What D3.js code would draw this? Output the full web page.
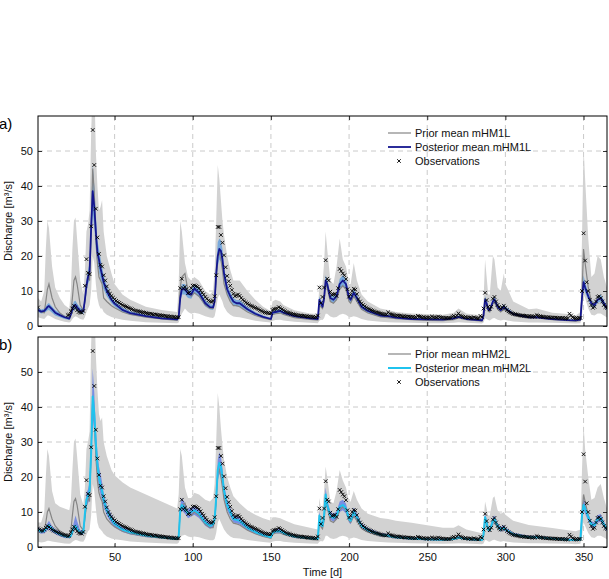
<!DOCTYPE html>
<html>
<head>
<meta charset="utf-8">
<script src="https://cdn.jsdelivr.net/npm/d3@7"></script>
<style>
  body { margin: 0; background: #fff; }
  svg { font-family: "Liberation Sans", Arial, sans-serif; }
</style>
</head>
<body>
<svg id="chart" width="609" height="579"></svg>
<script>
// Observed daily discharge, day 1..365 (shared by both panels)
var obs = [
  5.3, 5.0, 4.7, 4.6, 5.0, 5.5, 6.0, 5.7, 5.3, 5.0,
  4.7, 4.5, 4.3, 4.1, 3.9, 3.7, 3.5, 3.4, 3.3, 3.1,
  3.2, 4.2, 5.0, 5.8, 5.2, 4.5, 4.0, 3.9, 3.8, 4.3,
  11.5, 19.1, 15.2, 14.8, 28.5, 56.0, 46.0, 33.5, 25.3, 20.6,
  17.5, 17.0, 14.5, 13.0, 11.3, 10.0, 9.2, 8.6, 8.1, 7.6,
  7.2, 6.9, 6.6, 6.3, 6.0, 5.8, 5.6, 5.4, 5.2, 5.0,
  4.8, 4.6, 4.4, 4.3, 4.2, 4.1, 4.0, 3.9, 3.8, 3.7,
  3.6, 3.5, 3.5, 3.4, 3.3, 3.3, 3.2, 3.1, 3.1, 3.0,
  2.9, 2.9, 2.8, 2.8, 2.7, 2.7, 2.6, 2.6, 2.5, 2.5,
  2.5, 10.8, 13.5, 10.8, 11.2, 10.5, 9.4, 9.6, 10.8, 11.5,
  11.6, 11.4, 11.2, 10.8, 10.2, 9.5, 9.0, 8.3, 7.8, 7.3,
  7.0, 6.9, 7.2, 8.5, 14.5, 28.3, 28.3, 26.0, 23.8, 20.2,
  16.8, 14.3, 12.8, 11.5, 10.3, 9.2, 8.5, 8.8, 9.0, 8.6,
  8.0, 7.5, 7.1, 6.7, 6.4, 6.1, 5.8, 5.6, 5.4, 5.2,
  5.0, 4.8, 4.5, 4.3, 4.1, 3.9, 3.8, 3.7, 3.6, 3.7,
  4.6, 4.8, 4.9, 5.0, 5.4, 5.1, 4.8, 4.5, 4.2, 4.0,
  3.8, 3.7, 3.5, 3.4, 3.3, 3.2, 3.1, 3.0, 3.0, 2.9,
  2.9, 2.8, 2.8, 2.7, 2.7, 2.6, 2.6, 2.5, 2.5, 3.0,
  11.0, 6.6, 8.3, 11.0, 18.8, 13.5, 13.0, 9.8, 8.9, 9.0,
  9.2, 8.6, 10.8, 16.3, 15.7, 15.0, 14.5, 13.4, 10.5, 8.4,
  9.0, 10.0, 10.6, 10.4, 9.1, 7.7, 7.0, 6.4, 6.0, 5.6,
  5.3, 5.0, 4.8, 4.6, 4.4, 4.2, 4.0, 3.9, 3.8, 3.6,
  3.5, 3.4, 3.3, 3.3, 3.9, 3.5, 3.3, 3.2, 3.1, 3.0,
  3.0, 2.9, 2.9, 2.8, 2.8, 2.7, 2.7, 2.7, 2.6, 2.6,
  2.6, 2.5, 2.5, 2.9, 2.7, 2.6, 2.5, 2.5, 2.4, 2.4,
  2.4, 2.4, 2.7, 2.5, 2.4, 2.4, 2.7, 2.5, 2.4, 2.4,
  2.3, 2.3, 2.3, 2.3, 2.3, 2.7, 2.9, 2.6, 3.0, 3.6,
  3.0, 2.8, 2.6, 2.5, 2.5, 2.4, 2.4, 2.3, 2.3, 2.5,
  2.3, 2.2, 2.2, 2.9, 2.6, 5.0, 9.5, 7.4, 5.5, 4.8,
  5.5, 7.8, 8.3, 7.0, 6.0, 5.4, 5.0, 5.3, 5.8, 5.2,
  4.6, 4.2, 3.9, 3.7, 3.5, 3.4, 3.3, 3.2, 3.1, 3.0,
  3.0, 2.9, 2.9, 2.8, 2.8, 2.8, 2.7, 2.7, 2.7, 3.1,
  2.9, 2.8, 2.7, 2.6, 2.6, 2.5, 2.5, 2.5, 2.4, 2.4,
  2.4, 2.4, 2.3, 2.3, 2.3, 2.3, 2.3, 2.2, 2.2, 2.2,
  3.5, 3.0, 2.5, 2.3, 2.2, 2.2, 2.3, 2.3, 10.0, 26.5,
  18.7, 12.5, 10.0, 7.5, 6.0, 5.2, 5.5, 7.0, 8.3, 8.5,
  8.0, 7.0, 6.0, 5.4, 5.2
]
// days with no observation marker in panel a
var missingA = [2, 3, 4, 5, 6, 7, 8, 9, 10, 11, 12, 13, 14, 15, 16, 17, 18, 19]

var keyDays = [
  1, 3, 5, 6, 7, 8, 10, 12, 15, 18,
  21, 22, 23, 24, 25, 26, 28, 30, 31, 32,
  33, 34, 35, 36, 37, 38, 39, 40, 41, 42,
  43, 45, 48, 50, 55, 60, 70, 80, 90, 91,
  92, 93, 95, 97, 99, 101, 104, 108, 111, 113,
  114, 115, 116, 117, 118, 119, 120, 122, 124, 126,
  128, 130, 135, 140, 145, 150, 151, 153, 156, 158,
  165, 175, 180, 181, 182, 183, 184, 185, 186, 188,
  190, 192, 194, 196, 198, 200, 201, 203, 205, 208,
  212, 220, 225, 230, 240, 250, 260, 267, 270, 275,
  285, 286, 287, 288, 289, 290, 292, 293, 295, 297,
  299, 300, 305, 315, 320, 330, 340, 345, 348, 349,
  350, 351, 353, 355, 357, 359, 361, 363, 365
]

// Panel a: mHM1L
var priorLoA = [
  2.5, 2.2, 2.0, 2.5, 3.0, 3.0, 2.5, 2.0, 1.6, 1.2,
  1.0, 1.3, 2.0, 2.5, 2.8, 2.6, 2.0, 1.8, 2.5, 4,
  5, 6, 10, 20, 18, 12, 8, 6, 5, 5,
  4, 3.2, 2.6, 2.3, 1.8, 1.5, 1.1, 0.9, 0.8, 1.0,
  2.5, 3.5, 5, 4, 3.5, 3.8, 3.5, 2.8, 2.4, 2.3,
  2.8, 5, 8, 9, 8, 7, 5.5, 4, 3.2, 2.7,
  2.6, 2.5, 2.0, 1.5, 1.2, 1.0, 1.5, 1.7, 1.8, 1.6,
  1.2, 0.9, 0.8, 1.5, 1.8, 1.7, 2.2, 3.5, 3.5, 2.7,
  2.4, 2.6, 3.2, 3.5, 3.2, 2.6, 2.5, 2.8, 2.6, 2.0,
  1.6, 1.2, 1.1, 1.0, 0.9, 0.8, 0.8, 0.9, 1.1, 0.9,
  0.7, 1.0, 2.2, 2.0, 1.7, 1.6, 2.2, 2.3, 1.8, 1.6,
  1.8, 1.7, 1.3, 1.0, 1.0, 0.9, 0.8, 0.7, 0.8, 3,
  9, 8, 5, 3.2, 3, 3.6, 3.6, 3, 2.4
]
var priorMeanA = [
  4.5, 4.0, 3.8, 7, 10.5, 12, 8, 5.5, 3.7, 2.7,
  2.2, 3.5, 8, 13, 14, 12, 6, 4.5, 7, 11,
  14, 13, 27, 45, 38, 25, 18, 14, 13, 12,
  8, 7, 5.8, 5.2, 4.0, 3.3, 2.5, 2.0, 1.6, 3,
  11, 14, 15, 10, 8.5, 9.5, 8.5, 6, 5, 5,
  7, 13, 20, 21, 19, 16, 12, 9, 7, 5.8,
  5.8, 5.5, 4.0, 3.0, 2.3, 1.8, 3.2, 3.5, 3.7, 3.3,
  2.4, 1.9, 1.7, 6, 5.5, 5, 7, 12, 11, 7,
  6.5, 7.5, 10.5, 11.5, 10.5, 7, 6.5, 8.5, 7, 4.8,
  3.7, 2.6, 2.4, 2.1, 1.8, 1.6, 1.5, 1.8, 2.3, 1.8,
  1.4, 2.5, 6.5, 5.8, 4.2, 4, 6.5, 6.8, 4.8, 4.0,
  4.8, 4.4, 3.0, 2.2, 2.3, 1.8, 1.5, 1.4, 1.6, 9,
  22, 18, 11, 7, 6.5, 8, 8, 6.5, 5
]
var priorHiA = [
  8, 7, 10, 22, 30, 28, 17, 11, 8, 6,
  5, 10, 22, 30, 31, 25, 13, 9, 16, 27,
  29, 33, 55, 70, 70, 50, 40, 33, 34, 36,
  27, 20, 15, 12, 9, 7.5, 5.5, 4.6, 4, 12,
  30, 27, 18, 14, 13, 14, 13, 10, 9, 10,
  16, 30, 46, 42, 36, 30, 26, 20, 16, 13,
  13, 13, 10, 7.5, 5.5, 4.2, 7, 7.5, 7, 6,
  4.5, 3.6, 3.4, 12, 11, 12, 18, 27, 22, 13,
  12, 17, 25, 19, 17, 12, 12, 18, 13, 9,
  7, 5, 4.6, 4.0, 3.6, 3.4, 3.2, 3.8, 5, 3.6,
  3.0, 7, 19, 14, 9, 9, 20, 19, 11, 10,
  15, 12, 7, 4.8, 5, 3.8, 3.4, 3.0, 4, 25,
  51, 42, 25, 14, 15, 20, 19, 14, 11
]
var postLoA = [
  4.0, 3.6, 3.7, 4.0, 4.4, 4.6, 3.8, 3.0, 2.5, 2.0,
  1.7, 2.6, 3.8, 4.6, 4.8, 4.2, 3.5, 3.4, 6, 9.5,
  12, 13, 23, 32, 28, 22, 17.5, 15.5, 13.5, 12,
  10.5, 8.5, 6.5, 5.6, 4.0, 3.2, 2.4, 1.9, 1.6, 2.1,
  6.5, 9, 9, 8, 7.8, 9.3, 8.2, 5.6, 4.7, 4.6,
  6, 12.5, 17, 19, 18.5, 16, 13, 9, 7.3, 6,
  5.6, 5.6, 4.2, 3.1, 2.3, 1.8, 3.3, 3.5, 3.7, 3.3,
  2.4, 1.9, 1.8, 6.5, 5.6, 4.8, 7, 11.5, 10.5, 7,
  6.6, 7.4, 10.5, 11.5, 10.5, 7, 6.6, 8.4, 7, 4.8,
  3.8, 2.6, 2.4, 2.1, 1.8, 1.7, 1.6, 1.9, 2.3, 1.8,
  1.4, 2.6, 6.5, 5.6, 4.2, 3.9, 6.2, 6.7, 4.8, 3.9,
  4.8, 4.4, 3.0, 2.2, 2.2, 1.8, 1.5, 1.4, 1.6, 7,
  11, 9.5, 7.4, 5.6, 5.2, 6.6, 7, 5.6, 4.4
]
var postMeanA = [
  4.6, 4.1, 4.3, 4.8, 5.4, 5.7, 4.8, 3.8, 3.1, 2.5,
  2.1, 3.3, 4.8, 5.8, 6.0, 5.3, 4.3, 4.2, 7.5, 11.5,
  14, 15.5, 28, 38.5, 34, 27, 21, 19, 16.5, 14.5,
  12.5, 10, 7.5, 6.4, 4.6, 3.7, 2.8, 2.2, 1.9, 2.5,
  8, 10.5, 10.5, 9.2, 9.0, 10.7, 9.5, 6.5, 5.4, 5.3,
  7, 15, 20, 22, 21.5, 19, 15, 10.5, 8.5, 7,
  6.5, 6.5, 4.8, 3.5, 2.6, 2.0, 3.8, 4.0, 4.3, 3.8,
  2.8, 2.2, 2.0, 7.5, 6.5, 5.5, 8, 13, 12, 8,
  7.5, 8.5, 12, 13, 12, 8, 7.5, 9.5, 8, 5.5,
  4.3, 3.0, 2.8, 2.4, 2.0, 1.9, 1.8, 2.2, 2.6, 2.0,
  1.6, 3.0, 7.5, 6.5, 4.8, 4.5, 7, 7.6, 5.5, 4.5,
  5.5, 5.0, 3.4, 2.5, 2.5, 2.0, 1.7, 1.6, 1.8, 8,
  12.5, 11, 8.5, 6.5, 6, 7.5, 8, 6.5, 5
]
var postHiA = [
  5.2, 4.7, 5.0, 5.6, 6.3, 6.6, 5.6, 4.6, 3.7, 3.0,
  2.6, 4.0, 5.8, 7.0, 7.2, 6.4, 5.2, 5.0, 9, 13.5,
  16, 18, 33, 46, 40, 32, 24.5, 22, 19.5, 17,
  14.5, 11.5, 8.5, 7.2, 5.3, 4.2, 3.2, 2.6, 2.2, 3.0,
  9.5, 12, 12, 10.5, 10.3, 12, 10.8, 7.4, 6.2, 6.1,
  8, 17.5, 24, 25, 24.5, 22, 17, 12, 9.7, 8,
  7.4, 7.4, 5.4, 4.0, 3.0, 2.3, 4.3, 4.5, 4.8, 4.3,
  3.2, 2.5, 2.3, 8.5, 7.4, 6.3, 9, 14.5, 13.5, 9,
  8.4, 9.6, 13.5, 14.5, 13.5, 9, 8.4, 10.6, 9, 6.2,
  4.8, 3.4, 3.2, 2.7, 2.3, 2.2, 2.1, 2.5, 3.0, 2.3,
  1.9, 3.5, 8.5, 7.4, 5.5, 5.1, 7.8, 8.5, 6.2, 5.1,
  6.2, 5.6, 3.8, 2.8, 2.8, 2.3, 1.9, 1.8, 2.0, 9,
  14.5, 12.5, 9.6, 7.4, 6.8, 8.4, 9, 7.4, 5.6
]

// Panel b: mHM2L
var priorLoB = [
  1.5, 1.3, 1.4, 1.6, 1.8, 1.8, 1.6, 1.4, 1.2, 1.0,
  0.9, 1.1, 1.5, 1.8, 2.0, 1.9, 1.6, 1.5, 2.2, 3.5,
  4.5, 5, 9, 18, 16, 11, 7, 5.5, 5, 4.5,
  3.8, 3, 2.4, 2.2, 1.9, 1.6, 1.3, 1.1, 0.9, 1.2,
  2.5, 3.2, 3.5, 3, 2.8, 3, 2.8, 2.2, 1.9, 1.9,
  2.3, 4, 7, 8, 7, 6, 5, 3.8, 3.0, 2.6,
  2.5, 2.4, 2.0, 1.7, 1.4, 1.2, 1.6, 1.7, 1.7, 1.5,
  1.2, 1.0, 0.9, 1.5, 1.7, 1.6, 2.0, 3.2, 3.2, 2.5,
  2.3, 2.5, 3.0, 3.2, 3.0, 2.5, 2.4, 2.7, 2.5, 2.0,
  1.7, 1.4, 1.3, 1.2, 1.1, 1.0, 0.9, 1.0, 1.1, 1.0,
  0.8, 1.0, 2.0, 1.9, 1.6, 1.5, 2.0, 2.1, 1.7, 1.5,
  1.7, 1.6, 1.3, 1.1, 1.1, 1.0, 0.9, 0.8, 0.9, 3,
  7, 6, 4, 2.8, 2.6, 3.2, 3.2, 2.7, 2.2
]
var priorMeanB = [
  4.8, 4.3, 4.8, 7, 10, 11, 8, 6, 4.5, 3.7,
  3.3, 4.5, 9, 13, 13.8, 12, 6, 4.8, 8, 12,
  14, 13, 28, 42, 37, 26, 19, 15.5, 14, 13,
  10, 8, 6.5, 5.8, 4.5, 3.8, 3.0, 2.5, 2.1, 3.5,
  10, 12, 12.5, 9.5, 9, 10, 9, 6.5, 5.5, 5.5,
  7.5, 13, 21, 22, 20, 17, 13.5, 10, 8, 6.8,
  6.6, 6.3, 4.8, 3.8, 3.0, 2.5, 3.6, 4.0, 4.0, 3.6,
  2.8, 2.2, 2.0, 7, 5.8, 5.2, 7.5, 13, 11.5, 7.5,
  7, 8, 10.5, 11.5, 10.5, 7.5, 7, 8.8, 7.5, 5.3,
  4.2, 3.2, 3.0, 2.7, 2.4, 2.2, 2.0, 2.3, 2.7, 2.3,
  1.9, 3.2, 7.5, 6.5, 4.7, 4.5, 7, 7.3, 5.3, 4.5,
  5.3, 4.8, 3.4, 2.6, 2.7, 2.2, 1.9, 1.8, 2.0, 9,
  15, 13, 9, 6.5, 6.3, 7.8, 8, 6.5, 5
]
var priorHiB = [
  7, 7, 10, 20, 28, 26, 16, 12.5, 11.5, 11,
  10.5, 13, 22, 30, 31, 26, 15, 12, 17, 28,
  30, 33, 58, 70, 70, 55, 45, 38, 36, 37,
  30, 26, 22, 20.5, 18.5, 17, 15, 13, 11, 15,
  28, 26, 17, 14, 14, 15.5, 15, 13.5, 13, 14,
  18, 30, 44, 40, 34, 29, 25, 20, 17, 14.5,
  13.5, 12.5, 10.5, 9.2, 8.2, 7.5, 8.5, 8.5, 8.2, 7.8,
  6.5, 5.5, 5.0, 14, 11, 11, 16, 23, 20, 13,
  12.5, 16, 22, 19, 17, 13, 13, 16, 13.5, 11,
  9.5, 8.3, 8, 7.5, 6.9, 6.2, 5.5, 5.5, 6.2, 5,
  3.9, 7, 13, 11, 9, 9, 14, 14.5, 10.5, 9.5,
  10, 9.2, 7.5, 6.3, 6.0, 5.4, 4.8, 4.5, 5, 22,
  35, 28, 20, 13.5, 14, 17, 18, 14, 11
]
var postLoB = [
  4.3, 3.8, 3.9, 4.3, 4.8, 5.0, 4.3, 3.7, 3.1, 2.6,
  2.5, 2.7, 3.6, 4.8, 5.0, 4.4, 3.4, 3.6, 8, 11.5,
  12.5, 13.5, 23, 37, 33, 25, 20, 17, 15, 13.5,
  11.5, 9, 6.8, 5.6, 4.3, 3.6, 2.8, 2.4, 2.0, 2.6,
  9, 10.5, 9.5, 8.2, 8.7, 9.2, 8.3, 6.1, 5.2, 5.6,
  7, 12, 19, 21, 20, 17.5, 14, 10.5, 8.7, 7,
  6.8, 6.5, 4.8, 3.7, 2.9, 2.4, 3.5, 3.9, 3.9, 3.5,
  2.6, 2.2, 2.0, 7.8, 5.6, 5.2, 7.8, 13, 10.5, 7.8,
  7.2, 7.8, 10, 10.5, 9.6, 7, 6.5, 8.7, 7.4, 5.2,
  4.2, 3.0, 2.8, 2.4, 2.1, 1.9, 1.8, 2.0, 2.4, 2.0,
  1.7, 3.0, 7.4, 6.1, 4.3, 4.2, 6.5, 7, 5.2, 4.3,
  4.8, 4.4, 3.1, 2.4, 2.4, 2.1, 1.8, 1.7, 1.8, 7.8,
  10.5, 9.5, 7.4, 5.6, 5.4, 6.9, 7.2, 5.6, 4.4
]
var postMeanB = [
  5.0, 4.4, 4.6, 5.2, 5.8, 6.2, 5.2, 4.4, 3.7, 3.1,
  2.9, 3.2, 4.3, 5.8, 6.0, 5.2, 4.0, 4.2, 9.5, 13.5,
  14.5, 16, 27, 43, 38, 29.5, 23.5, 20, 17.5, 16,
  13.5, 10.5, 8, 6.6, 5.0, 4.2, 3.3, 2.8, 2.3, 3.0,
  10.5, 12, 11, 9.5, 10, 10.5, 9.5, 7, 6, 6.5,
  8, 14, 22, 24, 23, 20, 16, 12, 10, 8,
  7.8, 7.5, 5.5, 4.3, 3.4, 2.8, 4.0, 4.5, 4.5, 4.0,
  3.0, 2.5, 2.3, 9, 6.5, 6, 9, 15, 12, 9,
  8.3, 9, 11.5, 12, 11, 8, 7.5, 10, 8.5, 6,
  4.8, 3.5, 3.2, 2.8, 2.4, 2.2, 2.1, 2.3, 2.7, 2.3,
  2.0, 3.5, 8.5, 7, 5, 4.8, 7.5, 8, 6, 5,
  5.5, 5, 3.6, 2.8, 2.8, 2.4, 2.1, 2.0, 2.1, 9,
  12, 11, 8.5, 6.5, 6.2, 8, 8.3, 6.5, 5
]
var postHiB = [
  5.7, 5.0, 5.3, 6.0, 6.8, 7.5, 6.0, 5.1, 4.3, 3.6,
  3.3, 3.8, 5.2, 7.2, 9.0, 7.5, 4.8, 5.0, 11, 15.5,
  16.5, 18.5, 31, 51, 44, 34, 27, 23, 21, 18.5,
  15.5, 12, 9.2, 7.6, 5.7, 4.8, 3.8, 3.2, 2.7, 3.5,
  12, 14, 12.5, 10.8, 11.3, 11.8, 10.7, 7.9, 6.8, 7.4,
  9, 16, 25, 27, 26, 22.5, 18, 13.5, 11.3, 9,
  8.8, 8.5, 6.2, 4.9, 3.9, 3.2, 4.6, 5.2, 5.2, 4.6,
  3.4, 2.8, 2.6, 10.2, 7.4, 6.8, 10.2, 17, 13.5, 10.2,
  9.4, 10.2, 13, 13.5, 12.4, 9, 8.5, 11.3, 9.6, 6.8,
  5.4, 4.0, 3.7, 3.2, 2.8, 2.5, 2.4, 2.6, 3.1, 2.6,
  2.3, 4.0, 9.6, 7.9, 5.7, 5.4, 8.5, 9, 6.8, 5.7,
  6.2, 5.6, 4.1, 3.2, 3.2, 2.7, 2.4, 2.3, 2.4, 10.5,
  14, 12.5, 9.6, 7.4, 7.0, 9.1, 9.4, 7.4, 5.6
]

var xTicks = [50, 100, 150, 200, 250, 300, 350]
var yTicks = [0, 10, 20, 30, 40, 50]

var panels = [
  { tag: "a)", model: "mHM1L", top: 116, bottom: 326, xLabels: false,
    priorLo: priorLoA, priorMean: priorMeanA, priorHi: priorHiA,
    postLo: postLoA, postMean: postMeanA, postHi: postHiA,
    bandColor: "#6ea3da", bandOpacity: 0.9, meanColor: "#14168f", meanWidth: 1.8,
    missing: missingA },
  { tag: "b)", model: "mHM2L", top: 337, bottom: 547, xLabels: true,
    priorLo: priorLoB, priorMean: priorMeanB, priorHi: priorHiB,
    postLo: postLoB, postMean: postMeanB, postHi: postHiB,
    bandColor: "#6f86e3", bandOpacity: 0.9, meanColor: "#1fc3ee", meanWidth: 2,
    missing: [] }
]

var svg = d3.select("#chart")
var left = 38, right = 607

var x = d3.scaleLinear().domain([1, 365]).range([left, right])

panels.forEach(function(p, i) {
  var y = d3.scaleLinear().domain([0, 60]).range([p.bottom, p.top])
  var g = svg.append("g")

  // clip to the axes box
  var clipId = "clip" + i
  svg.append("clipPath").attr("id", clipId)
    .append("rect")
    .attr("x", left).attr("y", p.top)
    .attr("width", right - left).attr("height", p.bottom - p.top)

  // grid
  g.selectAll(".vgrid").data(xTicks).enter().append("line")
    .attr("x1", function(d) { return x(d) }).attr("x2", function(d) { return x(d) })
    .attr("y1", p.top).attr("y2", p.bottom)
    .attr("stroke", "#bdbdbd").attr("stroke-width", 0.8)
    .attr("stroke-dasharray", "5,4")
  g.selectAll(".hgrid").data(yTicks.slice(1)).enter().append("line")
    .attr("y1", function(d) { return y(d) }).attr("y2", function(d) { return y(d) })
    .attr("x1", left).attr("x2", right)
    .attr("stroke", "#bdbdbd").attr("stroke-width", 0.8)
    .attr("stroke-dasharray", "5,4")

  var rows = keyDays.map(function(d, k) {
    return { day: d, pLo: p.priorLo[k], pMean: p.priorMean[k], pHi: p.priorHi[k],
             qLo: p.postLo[k], qMean: p.postMean[k], qHi: p.postHi[k] }
  })

  var plot = g.append("g").attr("clip-path", "url(#" + clipId + ")")

  // prior band
  plot.append("path").datum(rows)
    .attr("fill", "#d2d2d2")
    .attr("d", d3.area()
      .x(function(d) { return x(d.day) })
      .y0(function(d) { return y(d.pLo) })
      .y1(function(d) { return y(d.pHi) }))

  // posterior band
  plot.append("path").datum(rows)
    .attr("fill", p.bandColor).attr("fill-opacity", p.bandOpacity)
    .attr("d", d3.area()
      .x(function(d) { return x(d.day) })
      .y0(function(d) { return y(d.qLo) })
      .y1(function(d) { return y(d.qHi) }))

  // prior mean
  plot.append("path").datum(rows)
    .attr("fill", "none").attr("stroke", "#858585").attr("stroke-width", 1.2)
    .attr("d", d3.line()
      .x(function(d) { return x(d.day) })
      .y(function(d) { return y(d.pMean) }))

  // posterior mean
  plot.append("path").datum(rows)
    .attr("fill", "none").attr("stroke", p.meanColor).attr("stroke-width", p.meanWidth)
    .attr("stroke-linejoin", "round")
    .attr("d", d3.line()
      .x(function(d) { return x(d.day) })
      .y(function(d) { return y(d.qMean) }))

  // observations as small crosses
  var pts = obs.map(function(v, k) { return { day: k + 1, v: v } })
    .filter(function(d) { return p.missing.indexOf(d.day) < 0 })
  plot.selectAll(".obs").data(pts).enter().append("path")
    .attr("d", function(d) {
      var cx = x(d.day), cy = y(d.v), s = 1.8
      return "M" + (cx - s) + "," + (cy - s) + "L" + (cx + s) + "," + (cy + s) +
             "M" + (cx - s) + "," + (cy + s) + "L" + (cx + s) + "," + (cy - s)
    })
    .attr("stroke", "#000").attr("stroke-width", 0.9).attr("fill", "none")

  // axes with inward ticks
  var yAxis = g.append("g").attr("transform", "translate(" + left + ",0)")
    .call(d3.axisLeft(y).tickValues(yTicks).tickSize(-4).tickPadding(5))
  yAxis.selectAll("text").attr("font-size", 11).attr("fill", "#111")
  g.append("g").attr("transform", "translate(" + right + ",0)")
    .call(d3.axisRight(y).tickValues(yTicks).tickSize(-4).tickFormat(""))
  var xAxis = g.append("g").attr("transform", "translate(0," + p.bottom + ")")
    .call(d3.axisBottom(x).tickValues(xTicks).tickSize(-4).tickPadding(6)
      .tickFormat(p.xLabels ? d3.format("d") : ""))
  xAxis.selectAll("text").attr("font-size", 11).attr("fill", "#111")
  g.append("g").attr("transform", "translate(0," + p.top + ")")
    .call(d3.axisTop(x).tickValues(xTicks).tickSize(-4).tickFormat(""))
  g.selectAll(".domain").remove()
  g.selectAll(".tick line").attr("stroke", "#000").attr("stroke-width", 0.8)

  g.append("rect")
    .attr("x", left).attr("y", p.top)
    .attr("width", right - left).attr("height", p.bottom - p.top)
    .attr("fill", "none").attr("stroke", "#000").attr("stroke-width", 1)

  // y label and panel tag
  g.append("text")
    .attr("transform", "translate(12," + (p.top + p.bottom) / 2 + ") rotate(-90)")
    .attr("text-anchor", "middle").attr("font-size", 11).attr("fill", "#111")
    .text("Discharge [m³/s]")
  g.append("text")
    .attr("x", -1).attr("y", p.top + 13)
    .attr("font-size", 15).attr("fill", "#000")
    .text(p.tag)

  // legend
  var lg = g.append("g").attr("transform", "translate(388," + (p.top + 17) + ")")
  lg.append("line").attr("x1", 0).attr("x2", 23).attr("y1", 0).attr("y2", 0)
    .attr("stroke", "#858585").attr("stroke-width", 1.2)
  lg.append("line").attr("x1", 0).attr("x2", 23).attr("y1", 14).attr("y2", 14)
    .attr("stroke", p.meanColor).attr("stroke-width", p.meanWidth)
  lg.append("path").attr("d", "M9.2,26.2L12.8,29.8M9.2,29.8L12.8,26.2")
    .attr("stroke", "#000").attr("stroke-width", 0.9)
  var labels = ["Prior mean " + p.model, "Posterior mean " + p.model, "Observations"]
  lg.selectAll(".lt").data(labels).enter().append("text")
    .attr("x", 27).attr("y", function(d, k) { return k * 14 })
    .attr("dy", "0.35em").attr("font-size", 11).attr("fill", "#111")
    .text(function(d) { return d })
})

svg.append("text")
  .attr("x", (left + right) / 2).attr("y", 576)
  .attr("text-anchor", "middle").attr("font-size", 11).attr("fill", "#111")
  .text("Time [d]")
</script>
</body>
</html>
